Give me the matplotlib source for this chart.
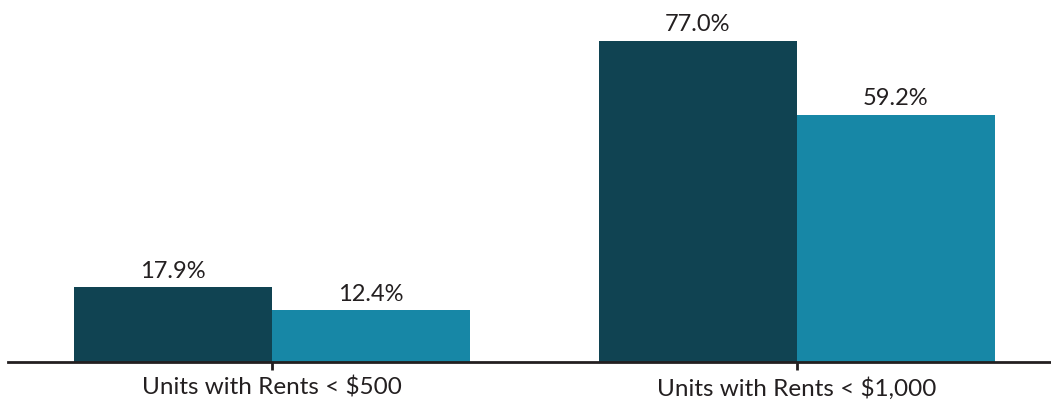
import numpy as np
import matplotlib.pyplot as plt

categories = ['Units with Rents < $500', 'Units with Rents < $1,000']
series_a = [17.9, 77.0]
series_b = [12.4, 59.2]

dark = '#104352'
light = '#1787A6'

plt.rcParams['font.family'] = ['Lato', 'DejaVu Sans']

fig = plt.figure(figsize=(10.51, 4.02), dpi=100)
ax = fig.add_axes([8 / 1051, 39 / 402, 1 - 8 / 1051, 363 / 402])

x = np.arange(len(categories))
w = 0.377
bars_a = ax.bar(x - w / 2, series_a, w, color=dark)
bars_b = ax.bar(x + w / 2, series_b, w, color=light)

for bars, vals in [(bars_a, series_a), (bars_b, series_b)]:
    for b, v in zip(bars, vals):
        ax.text(b.get_x() + b.get_width() / 2, v + 1.6, f'{v:.1f}%',
                ha='center', va='bottom', fontsize=17, color='#231f20')

ax.set_xlim(-0.503, 1.484)
ax.set_ylim(0, 87)
ax.set_xticks(x)
ax.set_xticklabels(categories, fontsize=17.5, color='#231f20')
ax.tick_params(axis='x', length=6, width=2, color='#231f20', pad=4)
ax.set_yticks([])
for s in ['top', 'right', 'left']:
    ax.spines[s].set_visible(False)
ax.spines['bottom'].set_linewidth(2)
ax.spines['bottom'].set_color('#231f20')

fig.savefig('out.png', dpi=100)
